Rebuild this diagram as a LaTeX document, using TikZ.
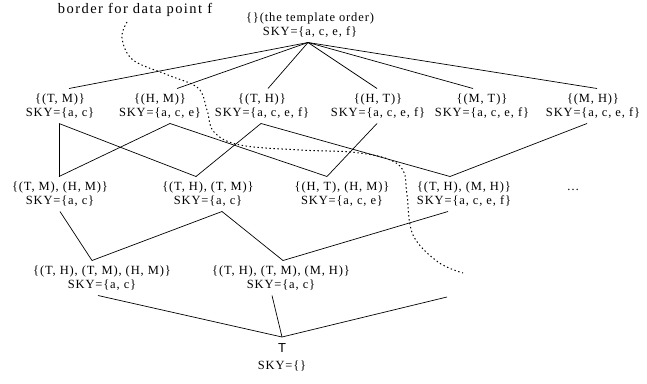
\documentclass[tikz,border=0pt]{standalone}
\usepackage{fontspec}
\setmainfont{Liberation Serif}[LetterSpace=7]
\newfontfamily\sansT{Liberation Sans}
\newfontfamily\labfont{Liberation Serif}[LetterSpace=10]
\begin{document}
\begin{tikzpicture}[x=1pt,y=-1pt,
  lab/.style={inner sep=5pt,align=center,font=\fontsize{12.5}{14}\selectfont},
  edge/.style={line width=0.7pt},
  border/.style={line width=1pt,dash pattern=on 1.4pt off 2.6pt}]
\useasboundingbox (0,0) rectangle (647,383);
% label
\node[inner sep=0pt,font=\labfont\fontsize{14.5}{16}\selectfont] (bl) at (135,10) {border for data point f};
% top
\node[lab] (top) at (310,25) {\{\}(the template order)\\SKY=\{a, c, e, f\}};
% level 1
\node[lab] (tm) at (60,106) {\{(T, M)\}\\SKY=\{a, c\}};
\node[lab] (hm) at (160,106) {\{(H, M)\}\\SKY=\{a, c, e\}};
\node[lab] (th) at (262,106) {\{(T, H)\}\\SKY=\{a, c, e, f\}};
\node[lab] (ht) at (378,106) {\{(H, T)\}\\SKY=\{a, c, e, f\}};
\node[lab] (mt) at (482,106) {\{(M, T)\}\\SKY=\{a, c, e, f\}};
\node[lab] (mh) at (593,106) {\{(M, H)\}\\SKY=\{a, c, e, f\}};
% level 2
\node[lab] (a) at (60,194) {\{(T, M), (H, M)\}\\SKY=\{a, c\}};
\node[lab] (b) at (208,194) {\{(T, H), (T, M)\}\\SKY=\{a, c\}};
\node[lab] (c) at (342,194) {\{(H, T), (H, M)\}\\SKY=\{a, c, e\}};
\node[lab] (d) at (464,194) {\{(T, H), (M, H)\}\\SKY=\{a, c, e, f\}};
\node[lab,inner sep=0pt] (dots) at (573,190) {\dots};
% level 3
\node[lab] (e) at (102,278) {\{(T, H), (T, M), (H, M)\}\\SKY=\{a, c\}};
\node[lab] (f) at (281,278) {\{(T, H), (T, M), (M, H)\}\\SKY=\{a, c\}};
% bottom
\node[lab,inner sep=0pt,anchor=north,font=\fontsize{12.5}{17}\selectfont] (bot) at (282,343) {{\sansT\fontsize{13}{17}\selectfont T}\\SKY=\{\}};
\coordinate (bj) at (282,337);
\coordinate (free) at (447,297);
% edges top -> level 1
\draw[edge] ([xshift=-2pt]top.south) -- ([xshift=9pt]tm.north);
\draw[edge] ([xshift=-2pt]top.south) -- ([xshift=17pt]hm.north);
\draw[edge] ([xshift=-2pt]top.south) -- ([xshift=6pt]th.north);
\draw[edge] ([xshift=-2pt]top.south) -- ([xshift=-1pt]ht.north);
\draw[edge] ([xshift=-2pt]top.south) -- ([xshift=-9pt]mt.north);
\draw[edge] ([xshift=-2pt]top.south) -- ([xshift=4pt]mh.north);
% level 1 -> level 2
\draw[edge] ([xshift=-1pt]tm.south) -- ([xshift=-1pt]a.north);
\draw[edge] ([xshift=-1pt]tm.south) -- ([xshift=-12pt]b.north);
\draw[edge] ([xshift=10pt]hm.south) -- ([xshift=-1pt]a.north);
\draw[edge] ([xshift=10pt]hm.south) -- ([xshift=-15pt]c.north);
\draw[edge] ([xshift=-1pt]th.south) -- ([xshift=-12pt]b.north);
\draw[edge] ([xshift=-1pt]th.south) -- ([xshift=-14pt]d.north);
\draw[edge] ([xshift=-1pt]ht.south) -- ([xshift=-15pt]c.north);
\draw[edge] ([xshift=-6pt]mh.south) -- ([xshift=-14pt]d.north);
% level 2 -> level 3
\draw[edge] (a.south) -- ([xshift=-10pt]e.north);
\draw[edge] ([xshift=14pt]b.south) -- ([xshift=-10pt]e.north);
\draw[edge] ([xshift=14pt]b.south) -- ([xshift=2pt]f.north);
\draw[edge] ([xshift=-16pt]d.south) -- ([xshift=2pt]f.north);
% level 3 -> bottom
\draw[edge] ([xshift=-4pt]e.south) -- (bj);
\draw[edge] ([xshift=-9pt]f.south) -- (bj);
\draw[edge] (bj) -- (free);
% border
\draw[border] plot[smooth,tension=0.6] coordinates {(127,22) (122,38) (133,60) (168,75) (198,88) (207,110) (214,132) (240,145) (300,150) (350,152) (385,158) (403,170) (407,195) (413,235) (438,262) (463,273)};
\end{tikzpicture}
\end{document}
